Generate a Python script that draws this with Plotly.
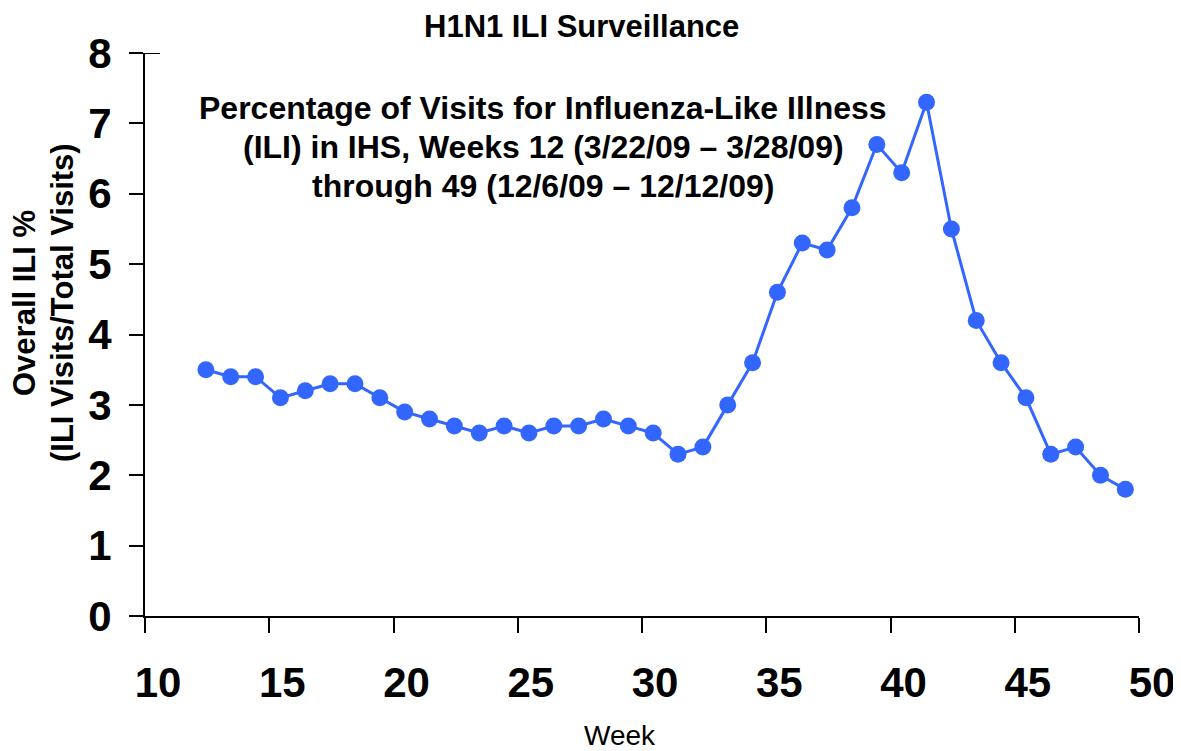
import plotly.graph_objects as go

weeks = list(range(12, 50))
ili_pct = [3.5, 3.4, 3.4, 3.1, 3.2, 3.3, 3.3, 3.1, 2.9, 2.8, 2.7, 2.6,
           2.7, 2.6, 2.7, 2.7, 2.8, 2.7, 2.6, 2.3, 2.4, 3.0, 3.6, 4.6,
           5.3, 5.2, 5.8, 6.7, 6.3, 7.3, 5.5, 4.2, 3.6, 3.1, 2.3, 2.4,
           2.0, 1.8]
x_ticks = [10, 15, 20, 25, 30, 35, 40, 45, 50]
y_ticks = [0, 1, 2, 3, 4, 5, 6, 7, 8]
title_text = "H1N1 ILI Surveillance"
note_lines = ["Percentage of Visits for Influenza-Like Illness",
              "(ILI) in IHS, Weeks 12 (3/22/09 – 3/28/09)",
              "through 49 (12/6/09 – 12/12/09)"]
ytitle_lines = ["Overall ILI %", "(ILI Visits/Total Visits)"]

x_pos = [w + 0.45 for w in weeks]

color = "#3366FF"
FONT = "Liberation Sans, Arial, sans-serif"
fig = go.Figure()
fig.add_trace(go.Scatter(
    x=x_pos, y=ili_pct, mode="lines+markers",
    line=dict(color=color, width=3),
    marker=dict(color=color, size=17),
    showlegend=False, hoverinfo="x+y",
))

# the page body has an 8px margin; lay out in screen pixels and offset
OFF = 8
W, H = 1181 - OFF, 751 - OFF
L = 145 - OFF
T = 53 - OFF
R = W - (1139 - OFF)
B = H - (616 - OFF)
pw = W - L - R
ph = H - T - B


def px_x(sx):
    return (sx - OFF - L) / pw


def px_y(sy):
    return 1 - (sy - OFF - T) / ph


annotations = [
    dict(text="<b>%s</b>" % title_text, x=px_x(581), y=px_y(26),
         font=dict(size=31)),
    dict(text="Week", x=px_x(620), y=px_y(735), font=dict(size=28)),
]
for line, yc in zip(note_lines, [108, 147, 186]):
    annotations.append(dict(text="<b>%s</b>" % line, x=px_x(543), y=px_y(yc),
                            font=dict(size=32)))
for line, xc in zip(ytitle_lines, [24, 62]):
    annotations.append(dict(text="<b>%s</b>" % line, x=px_x(xc), y=px_y(303),
                            textangle=-90, font=dict(size=31)))
for a in annotations:
    a.update(xref="paper", yref="paper", xanchor="center", yanchor="middle",
             showarrow=False)

fig.update_layout(
    width=W, height=H,
    margin=dict(l=L, r=R, t=T, b=B, pad=0, autoexpand=False),
    plot_bgcolor="white", paper_bgcolor="white",
    font=dict(family=FONT, color="black"),
    xaxis=dict(range=[10, 50], tickvals=x_ticks, ticks="outside", ticklen=15,
               tickwidth=2, tickcolor="black", showline=True, linewidth=2,
               linecolor="black", showgrid=False, zeroline=False, automargin=False,
               tickfont=dict(size=42, family=FONT, weight="bold"),
               ticklabelstandoff=14, ticklabelshift=13),
    yaxis=dict(range=[0, 8], tickvals=y_ticks, ticks="outside", ticklen=14,
               tickwidth=2, tickcolor="black", showline=True, linewidth=2,
               linecolor="black", showgrid=False, zeroline=False, automargin=False,
               tickfont=dict(size=42, family=FONT, weight="bold"),
               ticklabelstandoff=9),
    annotations=annotations,
    shapes=[dict(type="line", xref="paper", yref="y", x0=0, x1=15 / pw,
                 y0=8, y1=8, line=dict(color="black", width=2))],
)

fig.write_html("out.html")
